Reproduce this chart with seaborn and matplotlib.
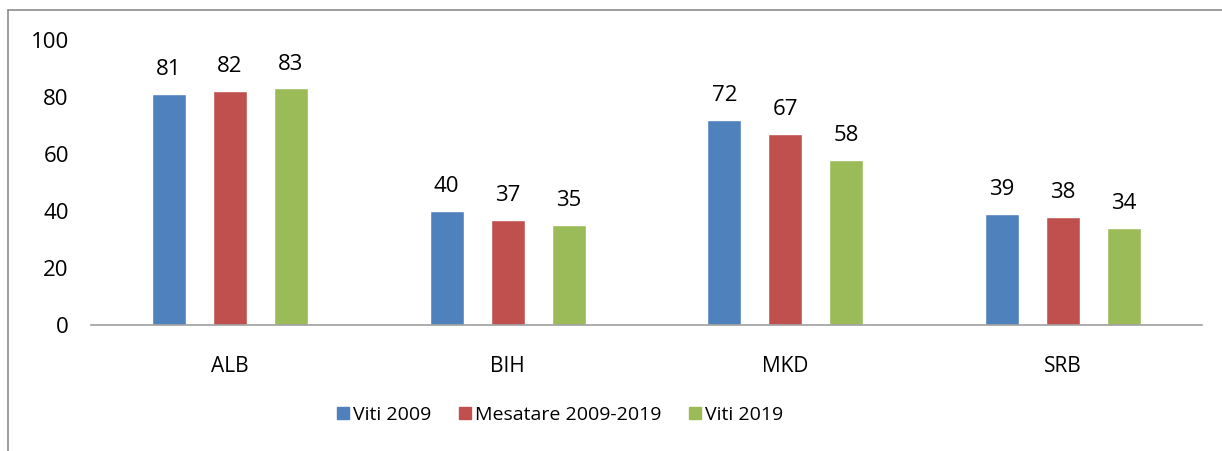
import matplotlib
matplotlib.use("Agg")
import matplotlib.pyplot as plt
from matplotlib.lines import Line2D
import seaborn as sns
import pandas as pd

categories = ["ALB", "BIH", "MKD", "SRB"]
series_names = ["Viti 2009", "Mesatare 2009-2019", "Viti 2019"]
viti_2009 = [81, 40, 72, 39]
mesatare = [82, 37, 67, 38]
viti_2019 = [83, 35, 58, 34]
colors = ["#4F81BD", "#C0504D", "#9BBB59"]

rows = []
for name, vals in zip(series_names, [viti_2009, mesatare, viti_2019]):
    for c, v in zip(categories, vals):
        rows.append({"cat": c, "series": name, "value": v})
df = pd.DataFrame(rows)

sns.set_theme(style="white")
plt.rcParams["font.family"] = ["Open Sans", "DejaVu Sans"]

fig = plt.figure(figsize=(12.22, 4.51), dpi=100)
ax = fig.add_axes([91/1222, 1-325/451, (1202-91)/1222, (325-40)/451])

sns.barplot(data=df, x="cat", y="value", hue="series", order=categories,
            hue_order=series_names, palette=colors, width=0.659, gap=0.44,
            saturation=1, ax=ax, legend=False)

for cont in ax.containers:
    ax.bar_label(cont, padding=10, fontsize=16, color="black")

ax.set_ylim(0, 100)
ax.set_yticks([0, 20, 40, 60, 80, 100])
ax.set_xlim(-0.5, 3.5)
ax.set_xlabel("")
ax.set_ylabel("")
ax.tick_params(axis="y", labelsize=16, length=0, pad=16, labelcolor="black")
ax.tick_params(axis="x", labelsize=15, length=0, pad=22, labelcolor="black")
for s in ["top", "right", "left"]:
    ax.spines[s].set_visible(False)
ax.spines["bottom"].set_color("#A0A0A0")
ax.spines["bottom"].set_linewidth(1.2)

handles = [Line2D([0], [0], marker="s", linestyle="none", markersize=9,
                  markerfacecolor=c, markeredgecolor=c) for c in colors]
fig.legend(handles, series_names, loc="center", bbox_to_anchor=(0.459, 1-415/451),
           ncol=3, frameon=False, fontsize=14, handlelength=0.5,
           handletextpad=0.25, columnspacing=1.5, labelcolor="black")

# outer frame (top and left edges)
x0 = 8/1222
y0 = 1-10/451
fig.add_artist(Line2D([x0, 1], [y0, y0], transform=fig.transFigure, color="#8C8C8C", lw=1.2))
fig.add_artist(Line2D([x0, x0], [0, y0], transform=fig.transFigure, color="#8C8C8C", lw=1.2))

fig.savefig("out.png", dpi=100)
